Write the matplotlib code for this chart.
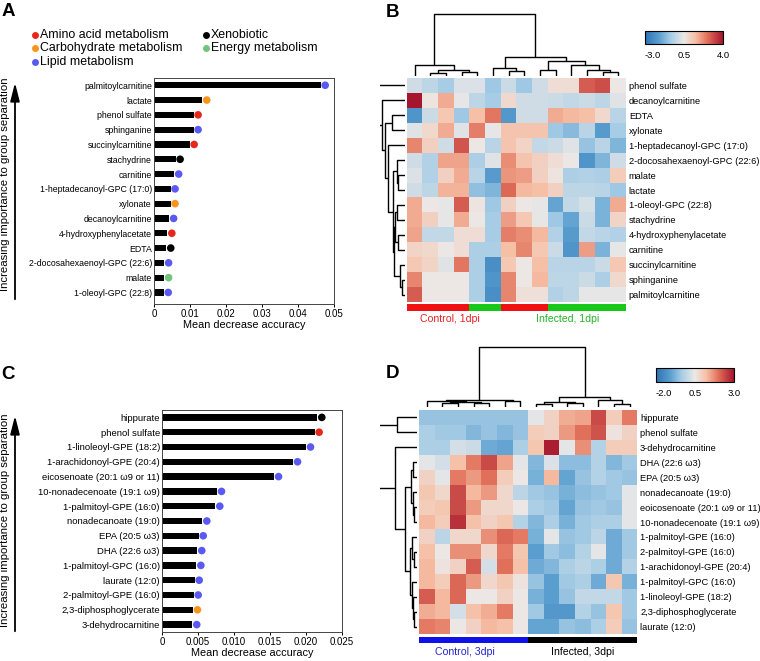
import numpy as np
import matplotlib.pyplot as plt
from matplotlib.colors import LinearSegmentedColormap, Normalize
from matplotlib.cm import ScalarMappable
from matplotlib.patches import FancyArrowPatch
from matplotlib.lines import Line2D
from matplotlib import transforms

plt.rcParams['font.family'] = ['Liberation Sans', 'DejaVu Sans']

# ---------------- data ----------------
cat_names = {'amino': 'Amino acid metabolism', 'carb': 'Carbohydrate metabolism',
             'lipid': 'Lipid metabolism', 'xeno': 'Xenobiotic', 'energy': 'Energy metabolism'}
cat_colors = {'amino': '#e5281c', 'carb': '#f7941d', 'lipid': '#5a5af2',
              'xeno': '#000000', 'energy': '#74c27b'}

# panel A (top to bottom)
a_names = ['palmitoylcarnitine', 'lactate', 'phenol sulfate', 'sphinganine', 'succinylcarnitine',
           'stachydrine', 'carnitine', '1-heptadecanoyl-GPC (17:0)', 'xylonate', 'decanoylcarnitine',
           '4-hydroxyphenylacetate', 'EDTA', '2-docosahexaenoyl-GPC (22:6)', 'malate', '1-oleoyl-GPC (22:8)']
a_values = [0.0463, 0.0134, 0.0110, 0.0110, 0.0099, 0.0060, 0.0056, 0.0046, 0.0046, 0.0042,
            0.0037, 0.0034, 0.0028, 0.0028, 0.0027]
a_cats = ['lipid', 'carb', 'amino', 'lipid', 'amino', 'xeno', 'lipid', 'lipid', 'carb', 'lipid',
          'amino', 'xeno', 'lipid', 'energy', 'lipid']

# panel C (top to bottom)
c_names = ['hippurate', 'phenol sulfate', '1-linoleoyl-GPE (18:2)', '1-arachidonoyl-GPE (20:4)',
           'eicosenoate (20:1 ω9 or 11)', '10-nonadecenoate (19:1 ω9)', '1-palmitoyl-GPE (16:0)',
           'nonadecanoate (19:0)', 'EPA (20:5 ω3)', 'DHA (22:6 ω3)', '1-palmitoyl-GPC (16:0)',
           'laurate (12:0)', '2-palmitoyl-GPE (16:0)', '2,3-diphosphoglycerate', '3-dehydrocarnitine']
c_values = [0.02157, 0.0212, 0.0200, 0.0182, 0.01556, 0.00764, 0.0074, 0.0056, 0.0051, 0.0049,
            0.00477, 0.00454, 0.0044, 0.0043, 0.0042]
c_cats = ['xeno', 'amino', 'lipid', 'lipid', 'lipid', 'lipid', 'lipid', 'lipid', 'lipid', 'lipid',
          'lipid', 'lipid', 'lipid', 'carb', 'lipid']

# panel B heatmap
b_rows = ['phenol sulfate', 'decanoylcarnitine', 'EDTA', 'xylonate', '1-heptadecanoyl-GPC (17:0)',
          '2-docosahexaenoyl-GPC (22:6)', 'malate', 'lactate', '1-oleoyl-GPC (22:8)', 'stachydrine',
          '4-hydroxyphenylacetate', 'carnitine', 'succinylcarnitine', 'sphinganine', 'palmitoylcarnitine']
b_values = [
    [0.0, -0.3, -0.7, 0.2, 0.2, -0.8, -0.1, -0.8, 0.0, 0.8, 0.8, 2.9, 3.1, 0.5],
    [4.0, 0.6, 1.8, 0.4, -0.3, -0.7, 0.9, 0.0, 0.0, -0.1, -0.2, -0.1, -0.3, 0.3],
    [-2.0, -0.1, 1.3, -0.8, 1.5, 2.5, -1.9, 0.0, 0.0, 1.8, 1.6, 1.5, 0.9, -0.4],
    [0.3, 0.9, 1.8, 0.3, 2.4, 0.4, 1.4, 1.4, 1.4, -0.8, -1.1, -0.4, -1.8, -0.7],
    [2.3, 1.1, 0.0, 3.0, 0.5, -0.4, 1.4, 1.0, -0.2, -0.1, 0.3, -0.9, -0.4, -1.2],
    [0.0, -0.5, 1.9, 1.9, -0.6, 0.3, 2.2, 1.4, 1.1, 0.8, 0.5, -2.0, -1.2, 0.0],
    [0.2, -0.5, 1.1, 1.8, -0.4, -1.8, 2.1, 2.0, 1.1, 0.6, -0.6, -0.5, -0.6, 1.2],
    [0.0, -0.3, 1.7, 1.7, -1.0, -1.2, 2.7, 1.6, 1.5, 1.1, -0.3, -0.3, -0.4, -0.8],
    [1.8, 0.5, 0.4, 2.9, 0.6, -0.8, 1.1, 0.5, 0.4, -1.6, -0.2, 0.1, -1.3, 1.8],
    [1.8, 1.1, 0.4, 1.8, 0.5, -0.7, 2.0, 1.3, 0.4, -0.8, -1.6, -0.1, -1.3, 1.0],
    [1.9, -0.2, -0.2, 0.8, 0.8, -0.7, 2.4, 2.2, 1.6, -0.5, -1.8, -0.2, -0.4, -0.5],
    [1.0, 0.9, 0.5, 0.8, -0.6, -0.6, 1.5, 2.3, 1.3, -0.1, -2.0, 2.0, -1.3, 0.4],
    [1.3, 1.0, 0.3, 2.5, -0.6, -2.2, 1.3, 0.5, 1.5, -0.4, -0.4, -0.4, -0.1, 1.3],
    [2.3, 0.5, 0.5, 0.5, -0.6, -2.0, 2.3, 0.5, 1.6, -0.3, -0.3, -0.1, -0.6, 0.9],
    [2.9, 0.5, 0.5, 0.5, -0.6, -2.2, 2.3, 0.7, 0.7, -0.5, -0.3, 0.4, 0.4, 0.4],
]
b_groups = ['control'] * 4 + ['infected'] * 2 + ['control'] * 3 + ['infected'] * 5
# trees: (height, left, right); leaves are column/row indices
b_col_tree = (61.5, (11, 0, (6, (2.2, 1, 2), (3.5, 3, 4))),
              (18.8, (8, 5, (4.5, 6, 7)),
               (14.5, (6, 8, 9), (10.5, 10, (6, 11, (3.5, 12, 13))))))
b_row_tree = (30, 0, (23.5, 1, (20, (13, 2, 3), (17, 4,
              (12.5, (8.3, 5, (7, 6, 7)),
               (11, (10, (8.3, 8, 9), (6.7, 10, 11)), (5, 12, (3.3, 13, 14))))))))

# panel D heatmap
d_rows = ['hippurate', 'phenol sulfate', '3-dehydrocarnitine', 'DHA (22:6 ω3)', 'EPA (20:5 ω3)',
          'nonadecanoate (19:0)', 'eoicosenoate (20:1 ω9 or 11)', '10-nonadecenoate (19:1 ω9)',
          '1-palmitoyl-GPE (16:0)', '2-palmitoyl-GPE (16:0)', '1-arachidonoyl-GPE (20:4)',
          '1-palmitoyl-GPC (16:0)', '1-linoleoyl-GPE (18:2)', '2,3-diphosphoglycerate', 'laurate (12:0)']
d_values = [
    [-0.5, -0.5, -0.5, -0.5, -0.5, -0.5, -0.5, 0.4, 0.9, 1.4, 1.5, 2.4, 1.0, 1.9],
    [-0.3, -0.4, -0.4, -0.7, -0.5, -0.7, -0.5, 1.0, 0.9, 1.6, 2.0, 2.3, 0.6, 0.9],
    [-0.3, -0.3, 0.2, 0.1, -0.9, -1.0, -0.3, 1.1, 2.9, 0.4, 1.7, -0.2, 1.0, 1.0],
    [0.4, 0.2, 1.2, 1.9, 2.4, 1.5, 0.4, -0.7, 0.3, -0.6, -0.6, -0.2, -0.7, -0.4],
    [0.9, 0.4, 1.9, 1.6, 2.0, 1.0, 0.5, -0.8, 1.3, -1.0, -0.5, -0.2, -0.4, -0.5],
    [1.1, 0.8, 2.4, 1.3, 1.6, 0.8, -0.1, -0.4, -0.5, -0.8, -0.6, -0.5, -0.4, 0.4],
    [1.0, 1.1, 2.4, 1.6, 0.8, 0.8, 0.5, -0.3, -0.4, -1.0, -0.5, -0.4, -0.5, 0.4],
    [1.3, 1.0, 2.7, 1.2, 0.9, 1.1, -0.2, -0.7, -0.3, -0.8, -0.4, -0.3, -0.3, 0.4],
    [0.9, -0.1, 0.8, 0.8, 1.7, 2.1, 1.9, -0.8, 0.4, -0.5, -0.4, -0.1, -0.9, -0.4],
    [1.2, 0.5, 1.7, 1.7, 0.8, 1.9, 1.1, -1.1, -0.4, -0.6, -0.2, 0.4, -0.9, -0.4],
    [1.3, 0.6, 0.9, 2.2, 0.2, 2.0, 1.2, -0.9, -0.7, -0.3, -0.1, -0.3, -0.9, -0.2],
    [1.3, 1.0, 2.1, 1.6, 0.8, 1.1, 0.6, -0.5, -1.1, -0.4, -0.3, -0.9, 1.1, -0.8],
    [2.2, 1.3, 2.1, 0.5, 0.5, 0.9, 0.5, -0.8, -1.1, -0.5, 0.0, 0.0, 0.0, -0.4],
    [1.4, 1.3, 0.2, 1.2, 1.4, 1.9, 0.5, -0.4, -1.2, -1.2, -0.2, -0.5, 1.1, -0.4],
    [1.9, 1.8, 0.5, 0.9, 1.3, 1.2, 0.5, -1.0, -1.0, -0.5, -0.6, -0.3, 1.0, -0.5],
]
d_groups = ['control'] * 7 + ['infected'] * 7
d_col_tree = (60, (6.7, (5.7, 0, (4.7, (3.4, 1, 2), (3.4, 3, 4))), (6, 5, 6)),
              (10, (5, (2.7, 7, 8), (3.4, 9, 10)), (6.7, 11, (2.3, 12, 13))))
d_row_tree = (45, (19.8, 0, 1), (21.5, 2,
              (11.5, (6, (4, 3, 4), (4, 5, (2.8, 6, 7))),
               (6.5, (4.5, 8, (3, 9, 10)), (5, 11, (4, 12, (2.8, 13, 14)))))))

heat_colors = ['#2c72b2', '#5a9ecf', '#a7cde6', '#ece8e6', '#f6bea4', '#e1705a', '#a5152d']
cmap = LinearSegmentedColormap.from_list('rb', list(zip([0, 0.18, 0.33, 0.5, 0.65, 0.8, 1.0], heat_colors)))

# ---------------- layout helpers ----------------
W, H = 760, 661
fig = plt.figure(figsize=(W / 100, H / 100), dpi=100)


def fx(x):
    return x / W


def fy(y):
    return 1 - y / H


def rect(x0, y0, x1, y1):
    return [x0 / W, 1 - y1 / H, (x1 - x0) / W, (y1 - y0) / H]


def bar_panel(ax, names, values, cats, xmax, ticks, ticklabels, ylim, fs):
    y = np.arange(len(names))[::-1]
    ax.barh(y, values, height=0.42, color='black', zorder=2)
    # dot sits just right of the bar end
    off = transforms.offset_copy(ax.transData, fig=fig, x=4.5, y=0, units='dots')
    ax.scatter(values, y, s=30, c=[cat_colors[c] for c in cats], transform=off,
               zorder=3, clip_on=False, linewidths=0)
    ax.set_xlim(0, xmax)
    ax.set_ylim(*ylim)
    ax.set_yticks(y, names, fontsize=fs)
    ax.tick_params(axis='y', length=0, pad=1.5)
    ax.set_xticks(ticks, ticklabels, fontsize=7)
    ax.tick_params(axis='x', length=2.5, width=0.7, pad=1)
    for s in ax.spines.values():
        s.set_linewidth(0.7)
        s.set_color('#444444')
    ax.set_xlabel('Mean decrease accuracy', fontsize=7.8, labelpad=1)


def dendro(ax, tree, orient):
    segs = []

    def walk(node):
        if isinstance(node, int):
            return node + 0.5, 0.0
        h, l, r = node
        pl, hl = walk(l)
        pr, hr = walk(r)
        segs.append(([pl, pl, pr, pr], [hl, h, h, hr]))
        return (pl + pr) / 2, h

    walk(tree)
    for pos, hts in segs:
        if orient == 'top':
            ax.plot(pos, hts, color='black', lw=1.0, solid_capstyle='butt')
        else:
            ax.plot(hts, pos, color='black', lw=1.0, solid_capstyle='butt')
    ax.axis('off')


def heat_panel(hrect, crect, rrect, grect, values, rows, groups, gcolors, ctree, rtree,
               col_top, row_w, vmin, vmax):
    vals = np.array(values)
    nr, nc = vals.shape
    norm = Normalize(vmin=vmin, vmax=vmax)
    ax = fig.add_axes(hrect)
    ax.pcolormesh(vals, cmap=cmap, norm=norm)
    ax.set_xlim(0, nc)
    ax.set_ylim(nr, 0)
    ax.set_xticks([])
    ax.yaxis.tick_right()
    ax.set_yticks(np.arange(nr) + 0.5, rows, fontsize=6.7)
    ax.tick_params(axis='y', length=0, pad=2)
    for s in ax.spines.values():
        s.set_visible(False)

    axc = fig.add_axes(crect)
    dendro(axc, ctree, 'top')
    axc.set_xlim(0, nc)
    axc.set_ylim(0, col_top)

    axr = fig.add_axes(rrect)
    dendro(axr, rtree, 'left')
    axr.set_xlim(row_w, 0)
    axr.set_ylim(nr, 0)

    axg = fig.add_axes(grect)
    axg.bar(np.arange(nc) + 0.5, 1, width=1.0, color=[gcolors[g] for g in groups])
    axg.set_xlim(0, nc)
    axg.set_ylim(0, 1)
    axg.axis('off')
    return norm


def colorbar(crect, norm, ticks, labels):
    cax = fig.add_axes(crect)
    cb = fig.colorbar(ScalarMappable(norm=norm, cmap=cmap), cax=cax, orientation='horizontal')
    cb.set_ticks(ticks)
    cb.set_ticklabels(labels)
    cax.tick_params(length=0, pad=5, labelsize=6.8)
    cax.get_xticklabels()[0].set_ha('left')
    cb.outline.set_linewidth(0.8)


# ---------------- panel A ----------------
legend_pos = {'amino': (0, 0), 'carb': (0, 1), 'lipid': (0, 2), 'xeno': (1, 0), 'energy': (1, 1)}
for key, (col, row) in legend_pos.items():
    x0 = [35, 206][col]
    yc = 34.5 + row * 13.5
    fig.add_artist(Line2D([fx(x0)], [fy(yc)], marker='o', ms=5, mew=0, color=cat_colors[key],
                          transform=fig.transFigure))
    fig.text(fx(x0 + 5), fy(yc), cat_names[key], fontsize=8.9, va='center', ha='left')

axA = fig.add_axes(rect(154, 78, 334, 304))
bar_panel(axA, a_names, a_values, a_cats, 0.05, [0, 0.01, 0.02, 0.03, 0.04, 0.05],
          ['0', '0.01', '0.02', '0.03', '0.04', '0.05'], (-0.78, 14.49), 6.3)

axC = fig.add_axes(rect(162, 410, 342, 632))
bar_panel(axC, c_names, c_values, c_cats, 0.025, [0, 0.005, 0.01, 0.015, 0.02, 0.025],
          ['0', '0.005', '0.010', '0.015', '0.020', '0.025'], (-0.5, 14.5), 6.8)

ylab = 'Increasing importance to group separation'
for y0, y1, yc in [(302, 80, 184), (634, 413, 520)]:
    fig.add_artist(FancyArrowPatch((fx(15), fy(y0)), (fx(15), fy(y1)), transform=fig.transFigure,
                                   arrowstyle='-|>,head_length=1.1,head_width=0.28',
                                   mutation_scale=10, lw=1.3, color='black'))
    fig.text(fx(5), fy(yc), ylab, rotation=90, fontsize=8.2, ha='center', va='center')

# ---------------- panel B ----------------
normB = heat_panel(rect(406.7, 77.7, 626, 302.3), rect(406.7, 13, 626, 75.5), rect(380, 77.7, 405, 302.3),
                   rect(406.7, 304, 626, 310.7), b_values, b_rows, b_groups,
                   {'control': '#f01212', 'infected': '#18c818'}, b_col_tree, b_row_tree,
                   62.5, 25, -3, 4)
colorbar(rect(645, 31, 723, 44), normB, [-3, 0.5, 4], ['-3.0', '0.5', '4.0'])
fig.text(fx(450), fy(319), 'Control, 1dpi', color='#e42222', fontsize=7.6, ha='center', va='center')
fig.text(fx(568), fy(319), 'Infected, 1dpi', color='#26b426', fontsize=7.6, ha='center', va='center')

# ---------------- panel D ----------------
normD = heat_panel(rect(419, 410, 637.3, 634), rect(419, 346, 637.3, 406.7), rect(380, 410, 416.5, 634),
                   rect(419, 637.3, 637.3, 643.3), d_values, d_rows, d_groups,
                   {'control': '#1010e8', 'infected': '#000000'}, d_col_tree, d_row_tree,
                   60.7, 36.5, -2, 3)
colorbar(rect(656, 368, 734, 382), normD, [-2, 0.5, 3], ['-2.0', '0.5', '3.0'])
fig.text(fx(465), fy(652), 'Control, 3dpi', color='#2424c8', fontsize=7.6, ha='center', va='center')
fig.text(fx(583), fy(652), 'Infected, 3dpi', color='black', fontsize=7.6, ha='center', va='center')

# panel letters
for letter, x, yb in [('A', 2, 16.3), ('B', 386, 16.7), ('C', 1, 379), ('D', 386, 378)]:
    fig.text(fx(x), fy(yb), letter, fontsize=13.5, fontweight='bold', va='baseline', ha='left')

fig.savefig('out.png', dpi=100)
